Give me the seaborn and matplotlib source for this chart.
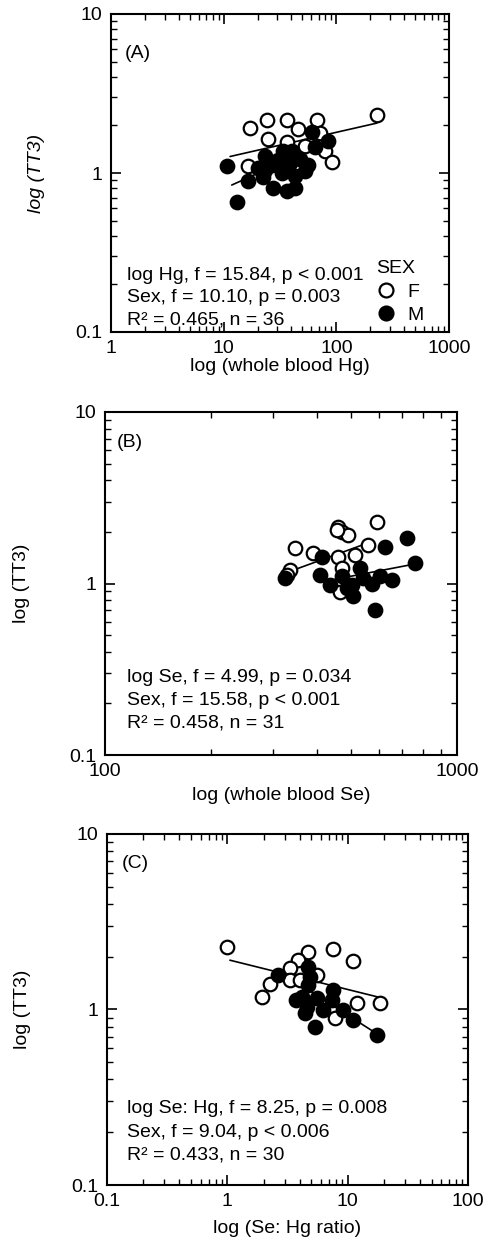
import numpy as np
import pandas as pd
import matplotlib
matplotlib.use("Agg")
import matplotlib.pyplot as plt
import seaborn as sns
from matplotlib.lines import Line2D
from matplotlib.ticker import LogLocator, NullFormatter

sns.set_theme(style="ticks")
plt.rcParams["font.family"] = ["Liberation Sans", "DejaVu Sans"]
plt.rcParams["text.color"] = "black"
plt.rcParams["axes.labelcolor"] = "black"
plt.rcParams["xtick.color"] = "black"
plt.rcParams["ytick.color"] = "black"
plt.rcParams["axes.edgecolor"] = "black"

# ---------------- Panel A: whole blood Hg ----------------
a_f_x = [229, 17.1, 24.2, 36.5, 67, 45.6, 24.7, 36.5, 52.6, 71.5, 79, 91, 16.4]
a_f_y = [2.30, 1.92, 2.17, 2.14, 2.14, 1.89, 1.63, 1.56, 1.48, 1.79, 1.38, 1.18, 1.10]
a_m_x = [10.8, 23.3, 33.6, 40.4, 30.3, 47.5, 56, 64.6, 60.8, 84, 16.4, 22.3,
         27.4, 36.5, 43, 13.1, 23.3, 32.9, 43, 26.8, 38.7, 52.6, 20.1]
a_m_y = [1.10, 1.28, 1.38, 1.38, 1.20, 1.23, 1.12, 1.46, 1.82, 1.58, 0.89, 0.95,
         0.80, 0.77, 0.80, 0.66, 1.04, 1.00, 0.955, 1.12, 1.15, 1.03, 1.07]
a_f_line_x = [11.4, 229]
a_f_line_y = [1.27, 2.06]
a_m_line_x = [11.8, 85]
a_m_line_y = [0.84, 1.58]

# ---------------- Panel B: whole blood Se ----------------
b_f_x = [592, 459, 470, 491, 347, 391, 460, 513, 559, 336, 328, 470, 465, 455]
b_f_y = [2.29, 2.14, 2.00, 1.92, 1.61, 1.50, 1.43, 1.47, 1.68, 1.20, 1.12, 1.23, 0.895, 2.05]
b_m_x = [720, 624, 413, 760, 408, 470, 530, 542, 604, 502, 507, 585, 573, 486, 436, 653, 324]
b_m_y = [1.84, 1.64, 1.43, 1.31, 1.12, 1.10, 1.23, 1.07, 1.10, 0.98, 0.84, 0.70, 1.00,
         0.94, 0.98, 1.05, 1.08]
b_f_line_x = [325, 570]
b_f_line_y = [1.15, 1.75]
b_m_line_x = [410, 760]
b_m_line_y = [1.02, 1.30]

# ---------------- Panel C: Se:Hg ratio ----------------
c_f_x = [0.995, 4.71, 7.6, 11.1, 3.89, 3.32, 5.53, 2.26, 1.93, 11.9, 18.6, 7.85, 3.32, 4.02]
c_f_y = [2.26, 2.13, 2.21, 1.89, 1.91, 1.72, 1.58, 1.39, 1.18, 1.09, 1.09, 0.895, 1.47, 1.47]
c_m_x = [2.65, 4.71, 4.86, 4.15, 4.57, 5.53, 7.6, 7.38, 9.2, 11.1, 5.36, 17.5, 4.43, 6.28,
         4.71, 3.72]
c_m_y = [1.57, 1.75, 1.54, 1.18, 1.04, 1.16, 1.29, 1.13, 0.99, 0.87, 0.80, 0.72, 0.95, 0.99,
         1.38, 1.13]
c_f_line_x = [1.05, 18.6]
c_f_line_y = [1.91, 1.17]
c_m_line_x = [2.74, 17.9]
c_m_line_y = [1.64, 0.72]

y_ticks = [0.1, 1, 10]
y_ticklabels = ["0.1", "1", "10"]

texts_a = ["log Hg, f = 15.84, p < 0.001", "Sex, f = 10.10, p = 0.003", "R² = 0.465, n = 36"]
texts_b = ["log Se, f = 4.99, p = 0.034", "Sex, f = 15.58, p < 0.001", "R² = 0.458, n = 31"]
texts_c = ["log Se: Hg, f = 8.25, p = 0.008", "Sex, f = 9.04, p < 0.006", "R² = 0.433, n = 30"]

W, H = 489, 1249
fig = plt.figure(figsize=(W / 100, H / 100), dpi=100)


def add_ax(left, top, w, h):
    return fig.add_axes([left / W, 1 - (top + h) / H, w / W, h / H])


FS = 14


def panel(ax, fx, fy, mx, my, flx, fly, mlx, mly, xlim, xticks, xticklabels,
          label, xlabel, texts, tx, tys, lab_xy, xl_y, yl_x, ylab_style="normal"):
    sns.lineplot(x=flx, y=fly, ax=ax, color="black", lw=1.2, zorder=2)
    sns.lineplot(x=mlx, y=mly, ax=ax, color="black", lw=1.2, zorder=2)
    sns.scatterplot(x=fx, y=fy, ax=ax, s=95, color="white", edgecolor="black",
                    linewidth=1.6, zorder=3)
    sns.scatterplot(x=mx, y=my, ax=ax, s=95, color="black", edgecolor="black",
                    linewidth=1.6, zorder=4)
    ax.set_xscale("log")
    ax.set_yscale("log")
    ax.set_xlim(*xlim)
    ax.set_ylim(0.1, 10)
    ax.set_xticks(xticks)
    ax.set_xticklabels(xticklabels)
    ax.set_yticks(y_ticks)
    ax.set_yticklabels(y_ticklabels)
    ax.xaxis.set_minor_locator(LogLocator(base=10, subs=np.arange(2, 10)))
    ax.yaxis.set_minor_locator(LogLocator(base=10, subs=np.arange(2, 10)))
    ax.xaxis.set_minor_formatter(NullFormatter())
    ax.yaxis.set_minor_formatter(NullFormatter())
    ax.tick_params(which="both", direction="in", top=True, right=True,
                   labelsize=FS, colors="black")
    ax.tick_params(which="major", length=7, width=1.2, pad=6)
    ax.tick_params(which="minor", length=4, width=1.0)
    for sp in ax.spines.values():
        sp.set_linewidth(1.5)
        sp.set_color("black")
    ax.set_xlabel(xlabel, fontsize=FS, va="center", color="black")
    ax.set_ylabel("log (TT3)", fontsize=FS, va="center", style=ylab_style, color="black")
    ax.xaxis.set_label_coords(0.5, xl_y)
    ax.yaxis.set_label_coords(yl_x, 0.5)
    ax.text(lab_xy[0], lab_xy[1], label, transform=ax.transAxes, fontsize=FS,
            va="baseline", ha="left", color="black")
    for t, ty in zip(texts, tys):
        ax.text(tx, ty, t, transform=ax.transAxes, fontsize=FS, va="baseline",
                ha="left", color="black")


axA = add_ax(111, 14, 338, 318)
panel(axA, a_f_x, a_f_y, a_m_x, a_m_y, a_f_line_x, a_f_line_y, a_m_line_x, a_m_line_y,
      (1, 1000), [1, 10, 100, 1000], ["1", "10", "100", "1000"],
      "(A)", "log (whole blood Hg)", texts_a, 0.047, [0.163, 0.094, 0.024],
      (0.041, 0.862), -0.107, -0.219, ylab_style="italic")

handles = [Line2D([], [], marker="o", ls="", mfc="white", mec="black", ms=10, mew=1.6),
           Line2D([], [], marker="o", ls="", mfc="black", mec="black", ms=10, mew=1.6)]
leg = axA.legend(handles, ["F", "M"], title="SEX", frameon=False, loc="lower left",
                 bbox_to_anchor=(0.785, 0.025), borderpad=0, borderaxespad=0,
                 handletextpad=0.6, labelspacing=0.3, handlelength=1.0,
                 fontsize=FS, title_fontsize=FS, alignment="left")
leg.get_title().set_color("black")
for t in leg.get_texts():
    t.set_color("black")

axB = add_ax(105, 412, 352, 343)
panel(axB, b_f_x, b_f_y, b_m_x, b_m_y, b_f_line_x, b_f_line_y, b_m_line_x, b_m_line_y,
      (100, 1000), [100, 1000], ["100", "1000"],
      "(B)", "log (whole blood Se)", texts_b, 0.062, [0.214, 0.146, 0.079],
      (0.034, 0.898), -0.117, -0.236)

axC = add_ax(107, 834, 361, 351)
panel(axC, c_f_x, c_f_y, c_m_x, c_m_y, c_f_line_x, c_f_line_y, c_m_line_x, c_m_line_y,
      (0.1, 100), [0.1, 1, 10, 100], ["0.1", "1", "10", "100"],
      "(C)", "log (Se: Hg ratio)", texts_c, 0.055, [0.204, 0.138, 0.073],
      (0.041, 0.903), -0.125, -0.235)

fig.savefig("out.png", dpi=100, facecolor="white")
